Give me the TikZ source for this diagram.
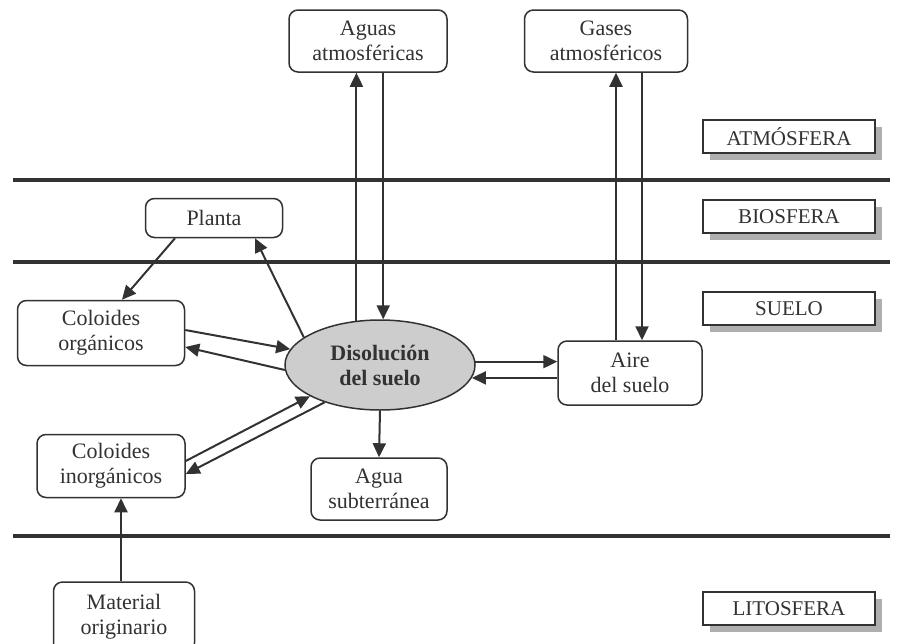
\documentclass[tikz,border=0pt]{standalone}
\usepackage{fontspec}
\setmainfont{Liberation Serif}
\usetikzlibrary{arrows.meta,shapes.geometric}
\definecolor{ink}{RGB}{50,50,50}
\definecolor{shade}{RGB}{175,175,175}
\definecolor{solfill}{RGB}{205,205,205}
\begin{document}
\begin{tikzpicture}[x=1pt,y=-1pt,
  every node/.style={font=\fontsize{22}{25}\selectfont, text=ink},
  box/.style={draw=ink, line width=1.5pt, rounded corners=9pt, fill=white, align=center, inner sep=0pt},
  layerbox/.style={draw=ink, line width=1.5pt, fill=white, minimum width=172pt, minimum height=33pt, inner sep=0pt, font=\fontsize{21}{25}\selectfont},
  layershadow/.style={fill=shade, minimum width=172pt, minimum height=33pt, inner sep=0pt},
  divider/.style={draw=ink, line width=4.5pt},
  arr/.style={draw=ink, line width=2pt, -{Triangle[length=14pt,width=13pt]}},
]
\useasboundingbox (0,0) rectangle (899,643);

% layer separators
\draw[divider] (13,180) -- (890,180);
\draw[divider] (13,262) -- (890,262);
\draw[divider] (13,536) -- (890,536);

% layer labels with drop shadow
\foreach \name/\txt/\y in {atm/ATMÓSFERA/136.5, bio/BIOSFERA/216.5, sue/SUELO/308.5, lit/LITOSFERA/608.5}{
  \node[layershadow] at (796,\y+7) {};
  \node[layerbox] (\name) at (789,\y) {\txt};
}

% compartments
\node[box, minimum width=158pt, minimum height=62pt] (aguas) at (368,41) {Aguas\\atmosféricas};
\node[box, minimum width=163pt, minimum height=62pt] (gases) at (606,41) {Gases\\atmosféricos};
\node[box, minimum width=137pt, minimum height=39pt] (planta) at (214,218) {Planta};
\node[box, minimum width=167pt, minimum height=65pt] (corg) at (101,333) {Coloides\\orgánicos};
\node[box, minimum width=148pt, minimum height=63pt] (cinorg) at (111,466) {Coloides\\inorgánicos};
\node[box, minimum width=144pt, minimum height=64pt] (aire) at (630,373) {Aire\\del suelo};
\node[box, minimum width=136pt, minimum height=62pt] (agua) at (379,489) {Agua\\subterránea};
\node[box, minimum width=141pt, minimum height=70pt] (mat) at (124,617) {Material\\originario};

\node[ellipse, draw=ink, line width=1.5pt, fill=solfill, minimum width=190pt, minimum height=90pt,
      inner sep=0pt, align=center, font=\fontsize{22}{25}\selectfont\bfseries] (dis) at (380,365) {Disolución\\del suelo};

% exchanges with the atmosphere
\draw[arr] (dis.118) -- (dis.118 |- aguas.south);
\draw[arr] (dis.86 |- aguas.south) -- (dis.86);
\draw[arr] ([xshift=-14pt]aire.north) -- ([xshift=-14pt]aire.north |- gases.south);
\draw[arr] ([xshift=12pt]aire.north |- gases.south) -- ([xshift=12pt]aire.north);

% biosphere
\draw[arr] ([xshift=-39pt]planta.south) -- ([xshift=21pt]corg.north);
\draw[arr] (dis.160) -- ([xshift=41pt]planta.south);

% colloids
\draw[arr] ([yshift=3pt]corg.east) -- (dis.170);
\draw[arr] (dis.183) -- ([yshift=-14pt]corg.east);
\draw[arr] ([yshift=5pt]cinorg.east) -- (dis.204);
\draw[arr] (dis.214) -- ([yshift=-8pt]cinorg.east);

% soil air and groundwater
\draw[arr] (dis.2) -- (dis.2 -| aire.west);
\draw[arr] (dis.-8 -| aire.west) -- (dis.-8);
\draw[arr] (dis.south) -- (agua.north);

% parent material
\draw[arr] ([xshift=-3pt]mat.north) -- ([xshift=-3pt]mat.north |- cinorg.south);
\end{tikzpicture}
\end{document}
